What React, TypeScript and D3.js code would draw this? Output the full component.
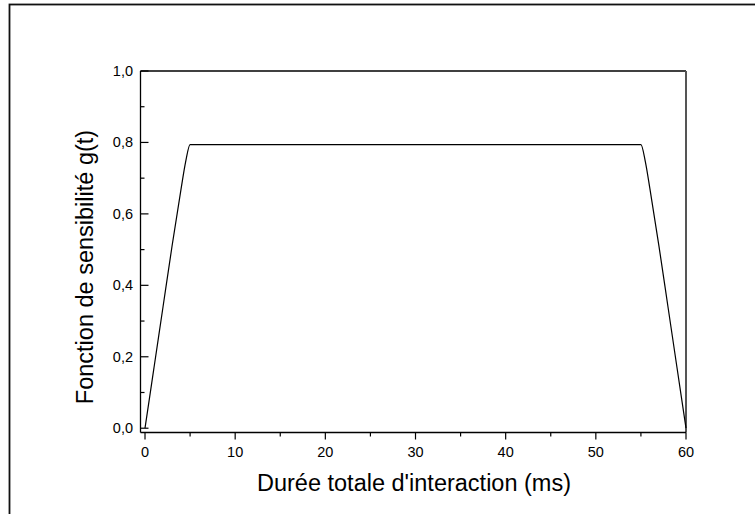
import React from "react";
import * as d3 from "d3";

const timeMs = [0, 0.5, 1, 2, 3, 4, 4.5, 5, 55, 55.5, 56, 57, 58, 59, 59.5, 60];
const gValues = [0, 0.085, 0.17, 0.34, 0.51, 0.67, 0.745, 0.794, 0.794, 0.745, 0.67, 0.51, 0.34, 0.17, 0.085, 0];
const xMajorTicks = [0, 10, 20, 30, 40, 50, 60];
const xMinorTicks = [5, 15, 25, 35, 45, 55];
const yMajorTicks = [0, 0.2, 0.4, 0.6, 0.8, 1.0];
const yMinorTicks = [0.1, 0.3, 0.5, 0.7, 0.9];

const W = 755;
const H = 514;
const left = 140.5;
const right = 686;
const top = 71;
const bottom = 432.5;

export default function App() {
  const x = d3.scaleLinear().domain([-0.5, 60]).range([left, right]);
  const y = d3.scaleLinear().domain([-0.012, 1.0]).range([bottom, top]);
  const data = timeMs.map((t, i) => [t, gValues[i]] as [number, number]);
  const line = d3
    .line<[number, number]>()
    .x((d) => x(d[0]))
    .y((d) => y(d[1]))
    .curve(d3.curveMonotoneX);
  const fmt = (v: number) => v.toFixed(1).replace(".", ",");
  const font = "Liberation Sans, Arial, sans-serif";

  return (
    <svg
      width={W}
      height={H}
      style={{ position: "absolute", left: 0, top: 0, background: "#fff" }}
      fontFamily={font}
    >
      <rect x={0} y={0} width={W} height={H} fill="#fff" />
      {/* outer frame */}
      <rect x={9.5} y={4.5} width={W + 20} height={H + 20} fill="none" stroke="#111" strokeWidth={1.8} />
      {/* plot frame */}
      <line x1={left} x2={right} y1={top} y2={top} stroke="#000" strokeWidth={1.3} />
      <line x1={right} x2={right} y1={top} y2={bottom} stroke="#555" strokeWidth={2} />
      <line x1={left} x2={right} y1={bottom} y2={bottom} stroke="#000" strokeWidth={1.3} />
      <line x1={left} x2={left} y1={top} y2={bottom} stroke="#000" strokeWidth={1.3} />
      {/* x ticks */}
      {xMajorTicks.map((t) => (
        <g key={"xm" + t}>
          <line x1={x(t)} x2={x(t)} y1={bottom} y2={bottom + 7} stroke="#000" strokeWidth={1.2} />
          <text x={x(t)} y={456.5} fontSize={14.5} textAnchor="middle" fill="#000">
            {t}
          </text>
        </g>
      ))}
      {xMinorTicks.map((t) => (
        <line key={"xn" + t} x1={x(t)} x2={x(t)} y1={bottom} y2={bottom + 4} stroke="#000" strokeWidth={1.2} />
      ))}
      {/* y ticks */}
      {yMajorTicks.map((t) => (
        <g key={"ym" + t}>
          <line x1={left} x2={left + 8} y1={y(t)} y2={y(t)} stroke="#000" strokeWidth={1.2} />
          <text x={133} y={y(t) + 5} fontSize={14.5} textAnchor="end" fill="#000">
            {fmt(t)}
          </text>
        </g>
      ))}
      {yMinorTicks.map((t) => (
        <line key={"yn" + t} x1={left} x2={left + 4} y1={y(t)} y2={y(t)} stroke="#000" strokeWidth={1.2} />
      ))}
      {/* curve */}
      <path d={line(data) || ""} fill="none" stroke="#000" strokeWidth={1.2} />
      {/* titles */}
      <text x={414} y={491} fontSize={23.5} textAnchor="middle" fill="#000">
        Durée totale d'interaction (ms)
      </text>
      <text
        transform={`translate(93, 267) rotate(-90)`}
        fontSize={23.5}
        textAnchor="middle"
        fill="#000"
      >
        Fonction de sensibilité g(t)
      </text>
    </svg>
  );
}
